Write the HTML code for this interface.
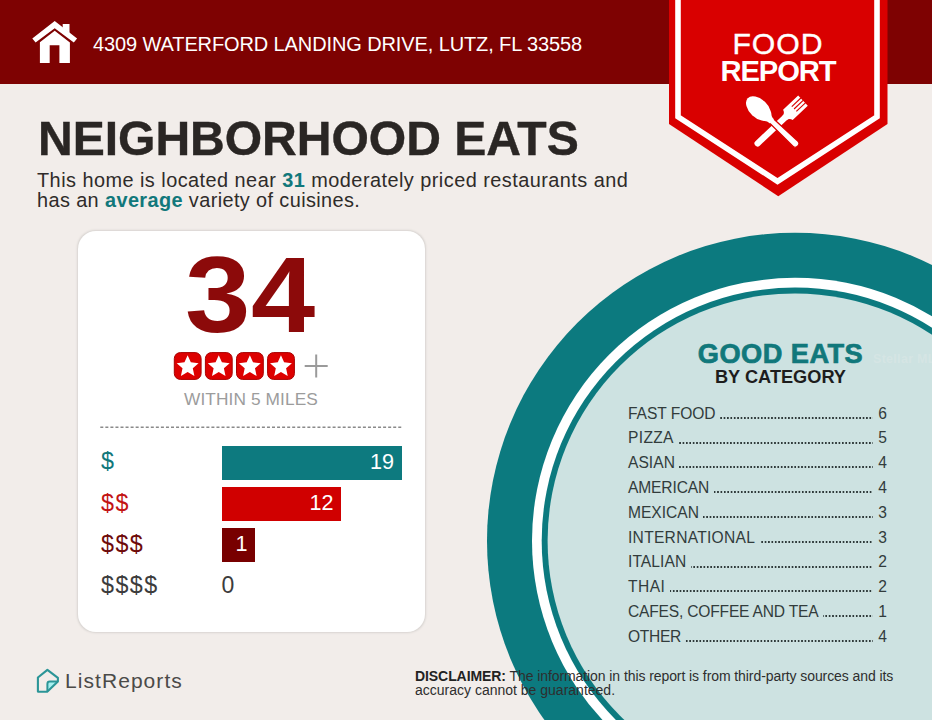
<!DOCTYPE html>
<html><head><meta charset="utf-8">
<style>
*{margin:0;padding:0;box-sizing:border-box}
html,body{width:932px;height:720px;overflow:hidden}
body{background:#f2edea;font-family:"Liberation Sans",sans-serif;position:relative}
.a{position:absolute;white-space:nowrap}
svg.a{left:0;top:0}
.tb{color:#11787b;font-weight:bold}
.li{display:flex;align-items:baseline;color:#323c3c}
.li .t{flex:none}
.li .d{flex:1;height:2px;position:relative;top:0.2px;margin:0 5.5px 0 4.5px;background:linear-gradient(90deg,#2f3a3a 0 1.7px,transparent 1.7px) right bottom/3.4px 2px repeat-x}
.li .n{flex:none}
</style></head>
<body>
<svg class="a" width="932" height="720" viewBox="0 0 932 720">
  <circle cx="795" cy="540.8" r="308" fill="#0c7a7f"/>
  <circle cx="795" cy="540.8" r="263" fill="#ffffff"/>
  <circle cx="795" cy="540.8" r="253.3" fill="#0c7a7f"/>
  <circle cx="795" cy="540.8" r="247.4" fill="#cde2e1"/>
</svg>
<div class="a" style="left:0;top:0;width:932px;height:84px;background:#7e0202"></div>
<svg class="a" width="100" height="84" viewBox="0 0 100 84" fill="#fff">
  <path d="M54.7 21.1 L77.1 38.4 L73.8 42.4 L54.7 28.3 L35.6 42.4 L32.3 38.4 Z"/>
  <path d="M62.7 23.9 H69.5 V33.2 L62.7 28 Z"/>
  <path d="M54.7 30.8 L69.9 42.5 V62.9 H59.4 V45.2 H49.7 V62.9 H39.9 V42.2 Z"/>
</svg>
<div class="a" style="left:93px;top:33.57px;font-size:20px;line-height:20px;letter-spacing:-0.11px;color:#fff;">4309 WATERFORD LANDING DRIVE, LUTZ, FL 33558</div>
<svg class="a" width="932" height="210" viewBox="0 0 932 210">
  <path d="M669 0 H887.5 V124 L778.25 196.3 L669 124 Z" fill="#d90000"/>
  <path d="M678 -3 V116.8 L777.5 181.3 L877 116.8 V-3" fill="none" stroke="#fff" stroke-width="5.6"/>
</svg>
<div class="a" style="left:0px;top:28.64px;font-size:30.2px;line-height:30.2px;letter-spacing:0.97px;color:#fff;-webkit-text-stroke:0.35px #fff;width:1556px;text-align:center;">FOOD</div>
<div class="a" style="left:0px;top:56.78px;font-size:29.2px;line-height:29.2px;letter-spacing:-1.14px;color:#fff;font-weight:bold;width:1556px;text-align:center;">REPORT</div>
<svg class="a" width="932" height="210" viewBox="0 0 932 210"><g transform="translate(779.15 123.05) rotate(-43.3)" fill="#fff"><rect x="-32.75" y="-3.1" width="44" height="6.2" rx="3.1"/><path d="M7.5 -3.1 Q11 -3.1 12 -7 H32.75 V7 H12 Q11 3.1 7.5 3.1 Z"/><g fill="#d90000"><rect x="20.5" y="-3.9" width="12.5" height="1.15"/><rect x="20.5" y="-0.58" width="12.5" height="1.15"/><rect x="20.5" y="2.75" width="12.5" height="1.15"/></g></g><g transform="translate(772.75 122.05) rotate(43.7)" fill="#fff"><path d="M-5 -2.8 L31.2 -3.5 A3.5 3.5 0 0 1 31.2 3.5 L-5 2.8 Z" stroke="#d90000" stroke-width="1.3"/><ellipse cx="-19.6" cy="0" rx="15" ry="9.2"/><path d="M-8 -6 Q-5 -2.8 -1 -2.8 V2.8 Q-5 2.8 -8 6 Z"/></g></svg>
<div class="a" style="left:38px;top:114.38px;font-size:48.1px;line-height:48.1px;letter-spacing:-0.05px;color:#2a2624;font-weight:bold;-webkit-text-stroke:0.4px #2a2624;">NEIGHBORHOOD EATS</div>
<div class="a" style="left:37px;top:171.15px;font-size:19.9px;line-height:19.9px;letter-spacing:0.46px;color:#2f2b29;">This home is located near <span class="tb">31</span> moderately priced restaurants and</div>
<div class="a" style="left:37px;top:191.35px;font-size:19.9px;line-height:19.9px;letter-spacing:0.39px;color:#2f2b29;">has an <span class="tb">average</span> variety of cuisines.</div>
<div class="a" style="left:77.5px;top:231.3px;width:347.8px;height:401.2px;background:#fff;border-radius:18px;box-shadow:0 0 2px 0.3px #d8d4d1"></div>
<div class="a" style="left:185px;top:242.01px;font-size:106.9px;line-height:106.9px;font-weight:bold;color:#8c0a0a;transform:scaleX(1.1);transform-origin:0 0">3</div>
<div class="a" style="left:251px;top:242.01px;font-size:106.9px;line-height:106.9px;font-weight:bold;color:#8c0a0a;transform:scaleX(1.08);transform-origin:0 0">4</div>
<svg class="a" width="440" height="440" viewBox="0 0 440 440"><defs><g id="sb"><rect x="0.5" y="0.5" width="26.8" height="26.8" rx="6" fill="#dd0000" stroke="#a80000" stroke-width="1"/><path d="M13.85 3.10 L17.02 10.23 L24.79 11.05 L18.99 16.27 L20.61 23.90 L13.85 20.00 L7.09 23.90 L8.71 16.27 L2.91 11.05 L10.68 10.23Z" fill="#fff"/></g></defs><use href="#sb" x="173.80" y="352.1"/><use href="#sb" x="204.90" y="352.1"/><use href="#sb" x="236.00" y="352.1"/><use href="#sb" x="267.10" y="352.1"/><path d="M316.2 354.5 V377.5 M304.7 366 H327.7" stroke="#9a9a9a" stroke-width="2" fill="none"/><line x1="100.3" y1="427.2" x2="403" y2="427.2" stroke="#8a8a8a" stroke-width="1.5" stroke-dasharray="3 2.05"/></svg>
<div class="a" style="left:0px;top:390.56px;font-size:17.3px;line-height:17.3px;letter-spacing:0.1px;color:#9c9c9c;width:502px;text-align:center;">WITHIN 5 MILES</div>
<div class="a" style="left:101px;top:449.68px;font-size:23.3px;line-height:23.3px;letter-spacing:1.45px;color:#11787b;">$</div>
<div class="a" style="left:101px;top:491.88px;font-size:23.3px;line-height:23.3px;letter-spacing:1.45px;color:#c31414;">$$</div>
<div class="a" style="left:101px;top:532.98px;font-size:23.3px;line-height:23.3px;letter-spacing:1.45px;color:#6e0a0a;">$$$</div>
<div class="a" style="left:101px;top:574.18px;font-size:23.3px;line-height:23.3px;letter-spacing:1.45px;color:#3c3c3c;">$$$$</div>
<div class="a" style="left:221.8px;top:445.5px;width:180.3px;height:34.6px;background:#0d7a7f"></div>
<div class="a" style="left:221.8px;top:486.6px;width:119.7px;height:34.6px;background:#d00000"></div>
<div class="a" style="left:221.8px;top:527.8px;width:33px;height:34.6px;background:#780000"></div>
<div class="a" style="right:538px;top:451.22px;font-size:21.6px;line-height:21.6px;letter-spacing:0px;color:#fff">19</div>
<div class="a" style="right:598.6px;top:492.32px;font-size:21.6px;line-height:21.6px;letter-spacing:0px;color:#fff">12</div>
<div class="a" style="right:684.5px;top:533.42px;font-size:21.6px;line-height:21.6px;letter-spacing:0px;color:#fff">1</div>
<div class="a" style="left:221.5px;top:573.73px;font-size:23px;line-height:23px;letter-spacing:0px;color:#3c3c3c;">0</div>
<div class="a" style="left:0px;top:339.68px;font-size:27.2px;line-height:27.2px;letter-spacing:0.47px;color:#11787b;font-weight:bold;-webkit-text-stroke:0.7px #11787b;width:1561px;text-align:center;">GOOD EATS</div>
<div class="a" style="left:0px;top:368.19px;font-size:18.2px;line-height:18.2px;letter-spacing:0px;color:#1d1d1d;font-weight:bold;width:1561px;text-align:center;">BY CATEGORY</div>
<div class="a li" style="left:628px;width:259px;top:405.59px;font-size:15.6px;line-height:15.6px;letter-spacing:0px"><span class="t" style="letter-spacing:-0.07px">FAST FOOD</span><span class="d"></span><span class="n">6</span></div>
<div class="a li" style="left:628px;width:259px;top:430.39px;font-size:15.6px;line-height:15.6px;letter-spacing:0px"><span class="t" style="letter-spacing:0.33px">PIZZA</span><span class="d"></span><span class="n">5</span></div>
<div class="a li" style="left:628px;width:259px;top:455.19px;font-size:15.6px;line-height:15.6px;letter-spacing:0px"><span class="t" style="letter-spacing:0.03px">ASIAN</span><span class="d"></span><span class="n">4</span></div>
<div class="a li" style="left:628px;width:259px;top:479.99px;font-size:15.6px;line-height:15.6px;letter-spacing:0px"><span class="t" style="letter-spacing:-0.14px">AMERICAN</span><span class="d"></span><span class="n">4</span></div>
<div class="a li" style="left:628px;width:259px;top:504.79px;font-size:15.6px;line-height:15.6px;letter-spacing:0px"><span class="t" style="letter-spacing:-0.02px">MEXICAN</span><span class="d"></span><span class="n">3</span></div>
<div class="a li" style="left:628px;width:259px;top:529.59px;font-size:15.6px;line-height:15.6px;letter-spacing:0px"><span class="t" style="letter-spacing:0.27px">INTERNATIONAL</span><span class="d"></span><span class="n">3</span></div>
<div class="a li" style="left:628px;width:259px;top:554.39px;font-size:15.6px;line-height:15.6px;letter-spacing:0px"><span class="t" style="letter-spacing:0.07px">ITALIAN</span><span class="d"></span><span class="n">2</span></div>
<div class="a li" style="left:628px;width:259px;top:579.19px;font-size:15.6px;line-height:15.6px;letter-spacing:0px"><span class="t" style="letter-spacing:0.47px">THAI</span><span class="d"></span><span class="n">2</span></div>
<div class="a li" style="left:628px;width:259px;top:603.99px;font-size:15.6px;line-height:15.6px;letter-spacing:0px"><span class="t" style="letter-spacing:-0.2px">CAFES, COFFEE AND TEA</span><span class="d"></span><span class="n">1</span></div>
<div class="a li" style="left:628px;width:259px;top:628.79px;font-size:15.6px;line-height:15.6px;letter-spacing:0px"><span class="t" style="letter-spacing:-0.33px">OTHER</span><span class="d"></span><span class="n">4</span></div>
<svg class="a" width="100" height="720" viewBox="0 0 100 720">
<path d="M47.4 691.5 V684 Q47.4 681.6 49.8 681.6 H57.8 Z" fill="#a6f0f0"/><path d="M37.9 691.6 V677.5 L47.4 669.9 L57.9 677.8 V681.5 L47.2 691.8 Z" fill="none" stroke="#2b9597" stroke-width="2.1" stroke-linejoin="round"/><path d="M47.4 691.5 V684 Q47.4 681.6 49.8 681.6 H57.8" fill="none" stroke="#2b9597" stroke-width="2" stroke-linejoin="round"/>
</svg>
<div class="a" style="left:65px;top:670.02px;font-size:21px;line-height:21px;letter-spacing:1.06px;color:#4b4a48;">ListReports</div>
<div class="a" style="left:415px;top:668.85px;font-size:14px;line-height:14px;letter-spacing:-0.08px;color:#2e2e2e;"><b style="color:#222">DISCLAIMER:</b> The information in this report is from third-party sources and its</div>
<div class="a" style="left:415px;top:682.65px;font-size:14px;line-height:14px;letter-spacing:0px;color:#2e2e2e;">accuracy cannot be guaranteed.</div>
<div class="a" style="left:873px;top:352px;font-size:12.5px;line-height:15px;letter-spacing:0.3px;color:#d5e5e4;font-weight:bold">Stellar MLS</div>
</body></html>
